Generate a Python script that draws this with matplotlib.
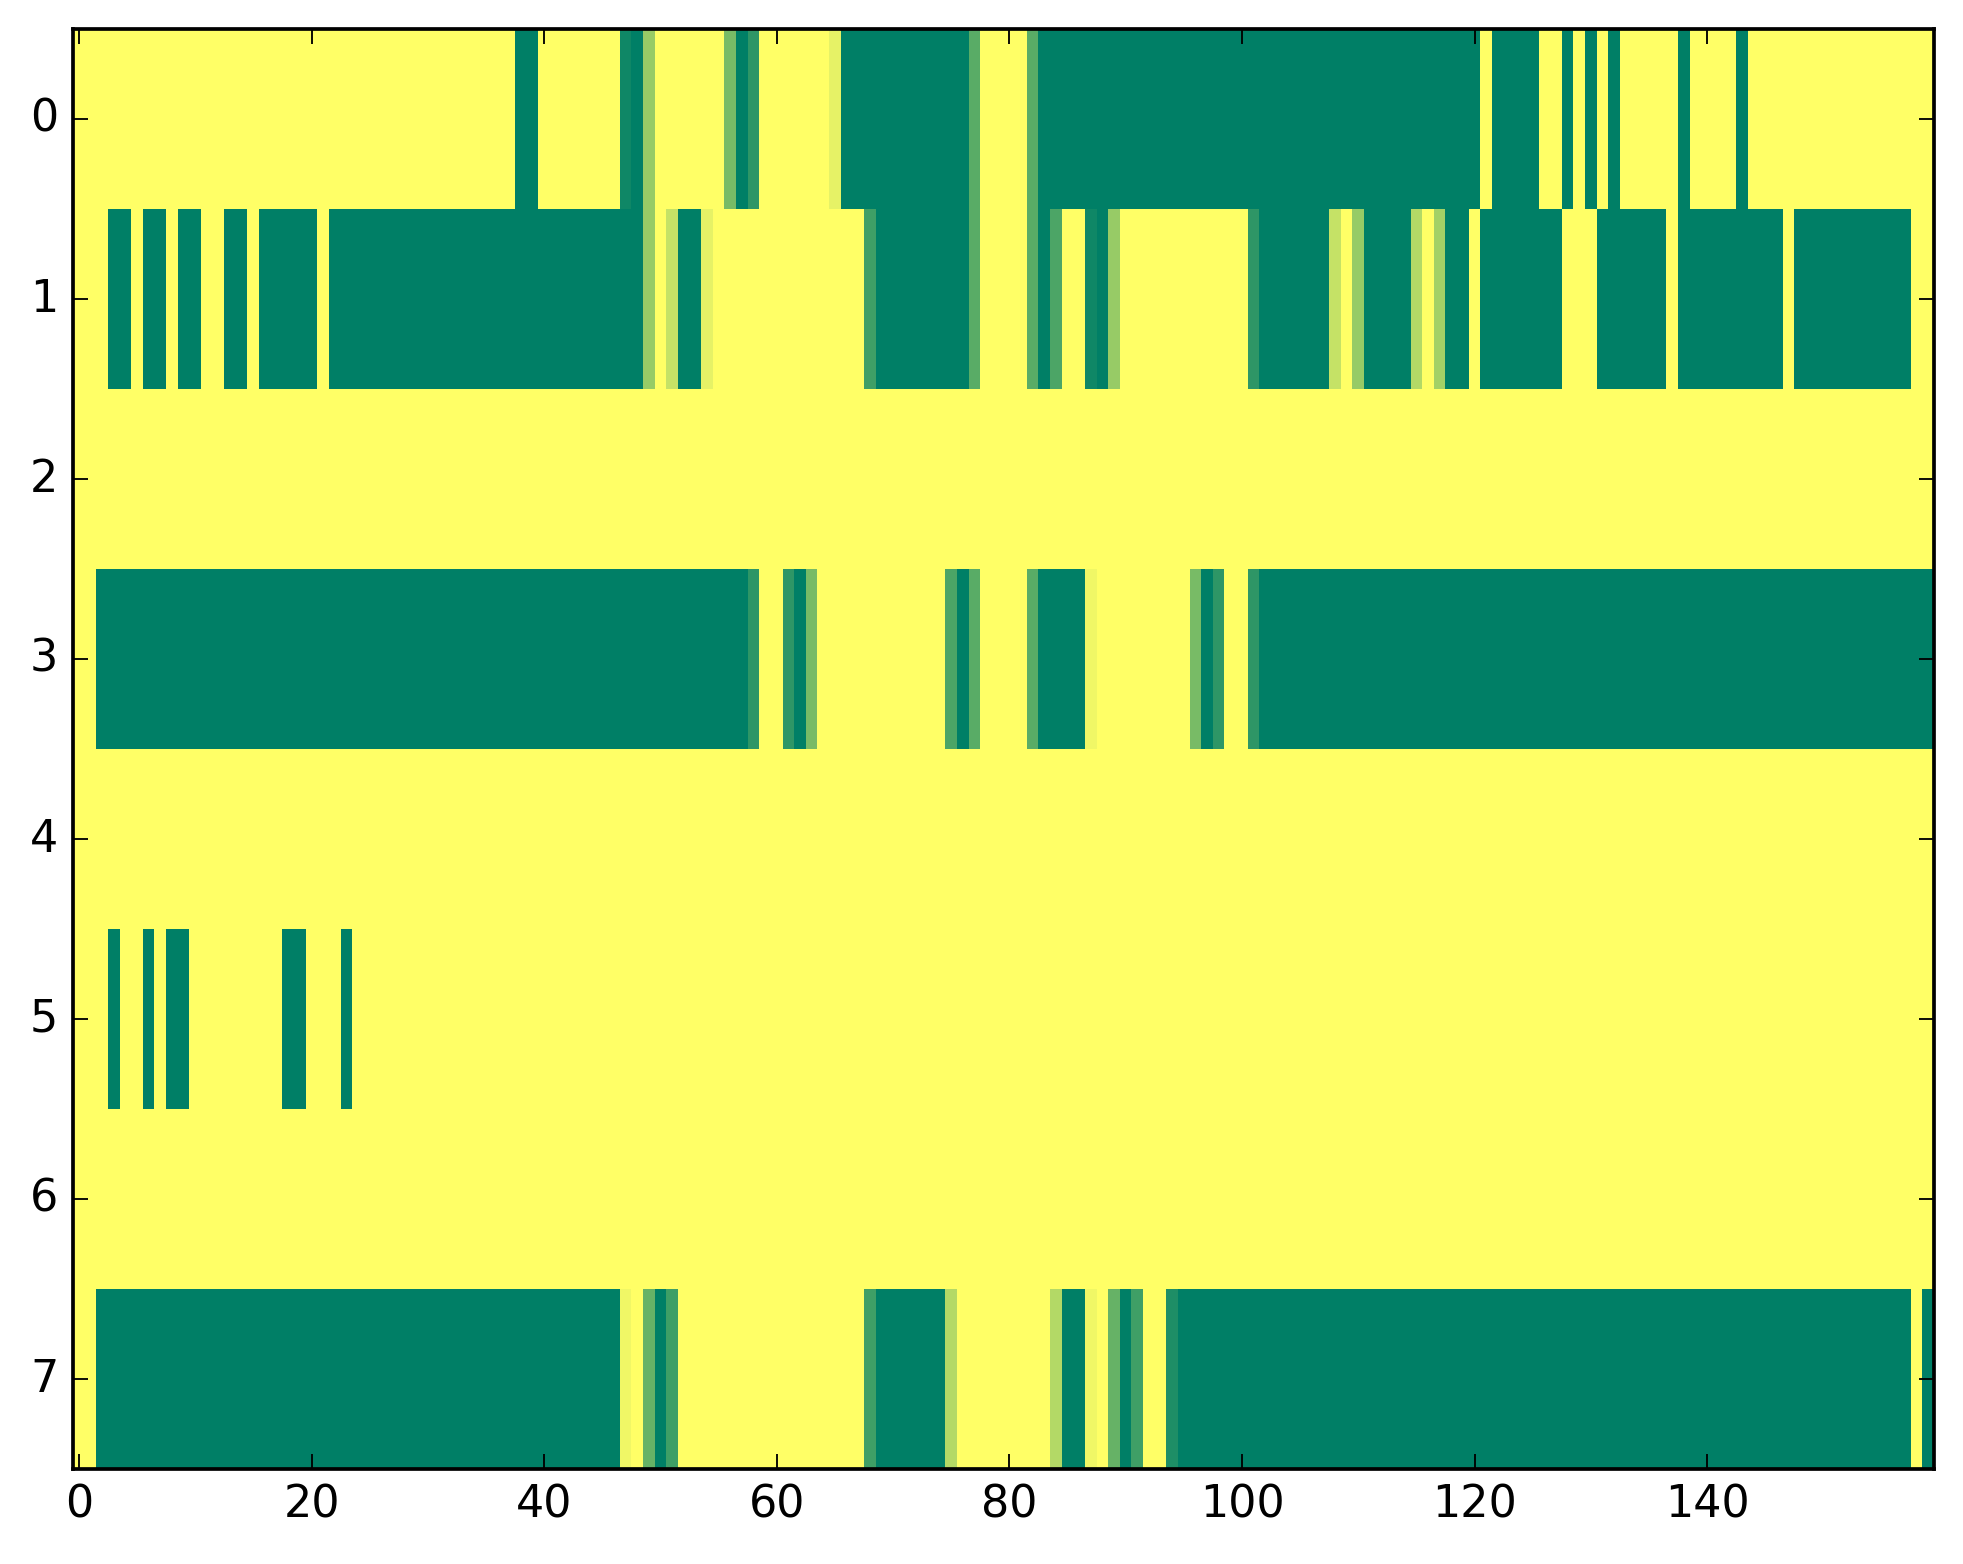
import numpy as np
import matplotlib
matplotlib.use('Agg')
from matplotlib import pyplot as plt

plt.style.use('classic')

# one list per row, 160 cells each (0 = yellow, 1 = green)
row0 = [0, 0, 0, 0, 0, 0, 0, 0, 0, 0, 0, 0, 0, 0, 0, 0, 0, 0, 0, 0,
        0, 0, 0, 0, 0, 0, 0, 0, 0, 0, 0, 0, 0, 0, 0, 0, 0, 0, 1, 1,
        0, 0, 0, 0, 0, 0, 0, .94, 1, .41, 0, 0, 0, 0, 0, 0, .53, 1, .82, 0,
        0, 0, 0, 0, 0, .1, 1, 1, 1, 1, 1, 1, 1, 1, 1, 1, 1, .65, 0, 0,
        0, 0, .65, 1, 1, 1, 1, 1, 1, 1, 1, 1, 1, 1, 1, 1, 1, 1, 1, 1,
        1, 1, 1, 1, 1, 1, 1, 1, 1, 1, 1, 1, 1, 1, 1, 1, 1, 1, 1, 1,
        1, 0, 1, 1, 1, 1, 0, 0, 1, 0, 1, 0, 1, 0, 0, 0, 0, 0, 1, 0,
        0, 0, 0, 1, 0, 0, 0, 0, 0, 0, 0, 0, 0, 0, 0, 0, 0, 0, 0, 0]
row1 = [0, 0, 0, 1, 1, 0, 1, 1, 0, 1, 1, 0, 0, 1, 1, 0, 1, 1, 1, 1,
        1, 0, 1, 1, 1, 1, 1, 1, 1, 1, 1, 1, 1, 1, 1, 1, 1, 1, 1, 1,
        1, 1, 1, 1, 1, 1, 1, 1, 1, .41, 0, .23, 1, 1, .1, 0, 0, 0, 0, 0,
        0, 0, 0, 0, 0, 0, 0, 0, .75, 1, 1, 1, 1, 1, 1, 1, 1, .65, 0, 0,
        0, 0, .65, 1, .7, 0, 0, .94, 1, .41, 0, 0, 0, 0, 0, 0, 0, 0, 0, 0,
        0, .82, 1, 1, 1, 1, 1, 1, .23, 0, .41, 1, 1, 1, 1, .3, 0, .36, 1, 1,
        0, 1, 1, 1, 1, 1, 1, 1, 0, 0, 0, 1, 1, 1, 1, 1, 1, 0, 1, 1,
        1, 1, 1, 1, 1, 1, 1, 0, 1, 1, 1, 1, 1, 1, 1, 1, 1, 1, 0, 0]
row2 = [0] * 160
row3 = [0, 0, 1, 1, 1, 1, 1, 1, 1, 1, 1, 1, 1, 1, 1, 1, 1, 1, 1, 1,
        1, 1, 1, 1, 1, 1, 1, 1, 1, 1, 1, 1, 1, 1, 1, 1, 1, 1, 1, 1,
        1, 1, 1, 1, 1, 1, 1, 1, 1, 1, 1, 1, 1, 1, 1, 1, 1, 1, .82, 0,
        0, .82, 1, .53, 0, 0, 0, 0, 0, 0, 0, 0, 0, 0, 0, .7, 1, .65, 0, 0,
        0, 0, .65, 1, 1, 1, 1, .06, 0, 0, 0, 0, 0, 0, 0, 0, .53, 1, .82, 0,
        0, .82, 1, 1, 1, 1, 1, 1, 1, 1, 1, 1, 1, 1, 1, 1, 1, 1, 1, 1,
        1, 1, 1, 1, 1, 1, 1, 1, 1, 1, 1, 1, 1, 1, 1, 1, 1, 1, 1, 1,
        1, 1, 1, 1, 1, 1, 1, 1, 1, 1, 1, 1, 1, 1, 1, 1, 1, 1, 1, 1]
row4 = [0] * 160
row5 = [0, 0, 0, 1, 0, 0, 1, 0, 1, 1, 0, 0, 0, 0, 0, 0, 0, 0, 1, 1,
        0, 0, 0, 1, 0, 0, 0, 0, 0, 0, 0, 0, 0, 0, 0, 0, 0, 0, 0, 0] + [0] * 120
row6 = [0] * 160
row7 = [0, 0, 1, 1, 1, 1, 1, 1, 1, 1, 1, 1, 1, 1, 1, 1, 1, 1, 1, 1,
        1, 1, 1, 1, 1, 1, 1, 1, 1, 1, 1, 1, 1, 1, 1, 1, 1, 1, 1, 1,
        1, 1, 1, 1, 1, 1, 1, .06, 0, .6, 1, .75, 0, 0, 0, 0, 0, 0, 0, 0,
        0, 0, 0, 0, 0, 0, 0, 0, .75, 1, 1, 1, 1, 1, 1, .3, 0, 0, 0, 0,
        0, 0, 0, 0, .3, 1, 1, .06, 0, .6, 1, .75, 0, 0, .88, 1, 1, 1, 1, 1,
        1, 1, 1, 1, 1, 1, 1, 1, 1, 1, 1, 1, 1, 1, 1, 1, 1, 1, 1, 1,
        1, 1, 1, 1, 1, 1, 1, 1, 1, 1, 1, 1, 1, 1, 1, 1, 1, 1, 1, 1,
        1, 1, 1, 1, 1, 1, 1, 1, 1, 1, 1, 1, 1, 1, 1, 1, 1, 1, 0, 1]

grid = np.array([row0, row1, row2, row3, row4, row5, row6, row7], dtype=float)

W, H, dpi = 1963, 1564, 267
fig = plt.figure(figsize=(W / dpi, H / dpi), dpi=dpi, facecolor='white')
ax = fig.add_axes([73.2 / W, (H - 1469) / H, 1860.8 / W, 1440 / H])
ax.imshow(grid, cmap='summer_r', vmin=0, vmax=1, aspect='auto',
          interpolation='nearest')
ax.set_xlim(-0.5, grid.shape[1] - 0.5)
ax.set_ylim(grid.shape[0] - 0.5, -0.5)
ax.set_xticks(range(0, 141, 20))
ax.set_yticks(range(8))

fig.savefig('out.png', dpi=dpi, facecolor='white')
